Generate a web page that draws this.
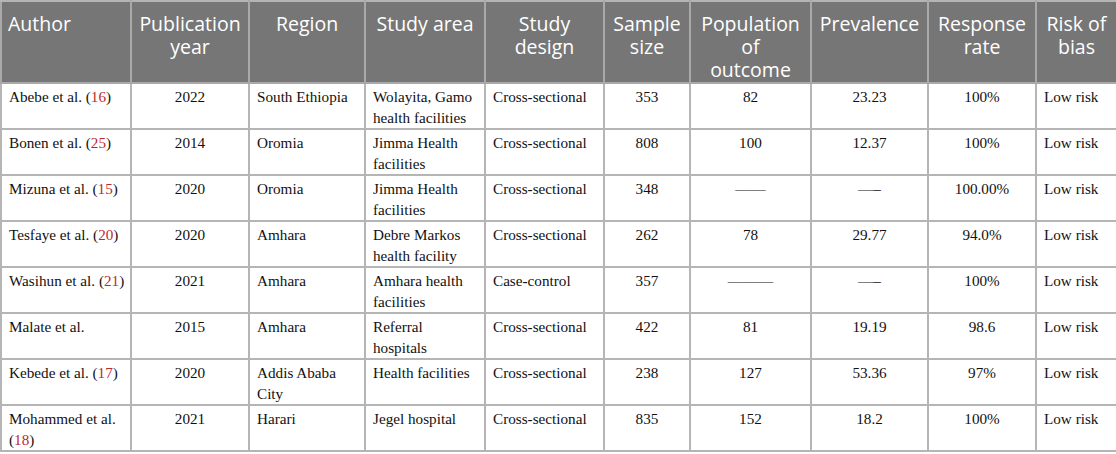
<!DOCTYPE html>
<html>
<head>
<meta charset="utf-8">
<script src="https://cdn.jsdelivr.net/npm/chart.js@4.4.1/dist/chart.umd.min.js"></script>
<style>
  html, body { margin: 0; padding: 0; background: #fff; }
  #tbl {
    border-collapse: collapse;
    table-layout: fixed;
    width: 1116px;
  }
  #tbl th, #tbl td {
    border: 2px solid #b5b5b5;
    vertical-align: top;
    overflow: hidden;
  }
  #tbl th {
    background: #767676;
    color: #fff;
    font-family: "Open Sans", "Noto Sans", sans-serif;
    font-weight: normal;
    font-size: 19.5px;
    line-height: 23px;
    height: 82px;
    padding: 10px 6px 0 6px;
    box-sizing: border-box;
    border-color: #a9a9a9;
    border-top-color: #b5b5b5;
    white-space: pre-line;
  }
  #tbl td {
    font-family: "Liberation Serif", "Times New Roman", serif;
    font-size: 15.2px;
    line-height: 21px;
    color: #111;
    height: 44px;
    padding: 2px 6px 0 7px;
    box-sizing: border-box;
  }
  .ref { color: #c0272d; }
</style>
</head>
<body>
<table id="tbl"><colgroup id="cols"></colgroup><thead><tr id="head"></tr></thead><tbody id="body"></tbody></table>
<script>
document.addEventListener('DOMContentLoaded', function () {
    const headers = ['Author', 'Publication\nyear', 'Region', 'Study area', 'Study\ndesign', 'Sample\nsize',
        'Population\nof\noutcome', 'Prevalence', 'Response\nrate', 'Risk of\nbias'];
    const authors = ['Abebe et al.', 'Bonen et al.', 'Mizuna et al.', 'Tesfaye et al.', 'Wasihun et al.',
        'Malate et al.', 'Kebede et al.', 'Mohammed et al.'];
    const refs = ['16', '25', '15', '20', '21', '', '17', '18'];
    const years = ['2022', '2014', '2020', '2020', '2021', '2015', '2020', '2021'];
    const regions = ['South Ethiopia', 'Oromia', 'Oromia', 'Amhara', 'Amhara', 'Amhara', 'Addis Ababa City', 'Harari'];
    const studyAreas = ['Wolayita, Gamo health facilities', 'Jimma Health facilities', 'Jimma Health facilities',
        'Debre Markos health facility', 'Amhara health facilities', 'Referral hospitals', 'Health facilities',
        'Jegel hospital'];
    const designs = ['Cross-sectional', 'Cross-sectional', 'Cross-sectional', 'Cross-sectional', 'Case-control',
        'Cross-sectional', 'Cross-sectional', 'Cross-sectional'];
    const sampleSizes = ['353', '808', '348', '262', '357', '422', '238', '835'];
    const outcomes = ['82', '100', '——', '78', '———', '81', '127', '152'];
    const prevalence = ['23.23', '12.37', '—–', '29.77', '—–', '19.19', '53.36', '18.2'];
    const responseRates = ['100%', '100%', '100.00%', '94.0%', '100%', '98.6', '97%', '100%'];
    const riskOfBias = ['Low risk', 'Low risk', 'Low risk', 'Low risk', 'Low risk', 'Low risk', 'Low risk', 'Low risk'];

    // layout only
    const colWidths = [130, 118, 116, 120, 119, 86, 121, 117, 108, 81];
    const headAlign = ['left', 'center', 'center', 'center', 'center', 'center', 'center', 'center', 'center', 'center'];
    const bodyAlign = ['left', 'center', 'left', 'left', 'left', 'center', 'center', 'center', 'center', 'left'];

    const cols = document.getElementById('cols');
    colWidths.forEach(w => {
        const c = document.createElement('col');
        c.style.width = w + 'px';
        cols.appendChild(c);
    });

    const head = document.getElementById('head');
    headers.forEach((h, i) => {
        const th = document.createElement('th');
        th.textContent = h;
        th.style.textAlign = headAlign[i];
        head.appendChild(th);
    });

    const body = document.getElementById('body');
    authors.forEach((a, r) => {
        const tr = document.createElement('tr');
        const cells = [null, years[r], regions[r], studyAreas[r], designs[r], sampleSizes[r],
            outcomes[r], prevalence[r], responseRates[r], riskOfBias[r]];
        cells.forEach((v, i) => {
            const td = document.createElement('td');
            td.style.textAlign = bodyAlign[i];
            if (bodyAlign[i] === 'center') td.style.padding = '2px 2px 0 2px';
            if (i === 0) {
                td.style.paddingRight = '1px';
                td.appendChild(document.createTextNode(a));
                if (refs[r]) {
                    td.appendChild(document.createTextNode(' ('));
                    const s = document.createElement('span');
                    s.className = 'ref';
                    s.textContent = refs[r];
                    td.appendChild(s);
                    td.appendChild(document.createTextNode(')'));
                }
            } else {
                td.textContent = v;
            }
            tr.appendChild(td);
        });
        body.appendChild(tr);
    });
});
</script>
</body>
</html>
